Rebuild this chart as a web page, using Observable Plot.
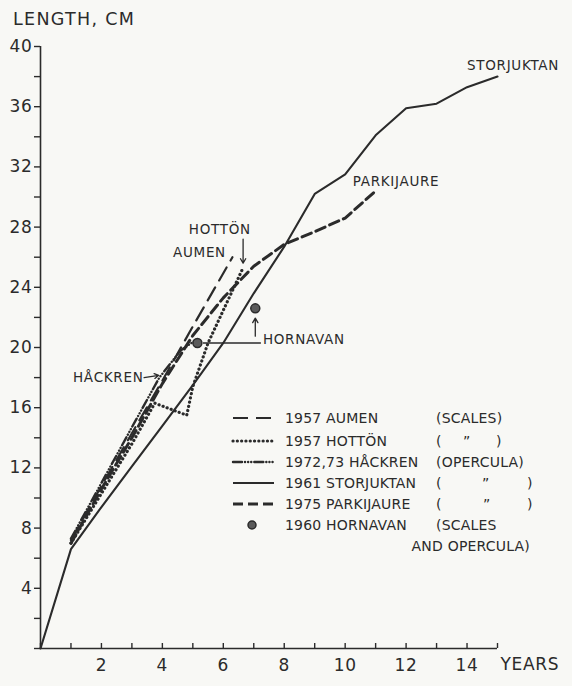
<!DOCTYPE html>
<html>
<head>
<meta charset="utf-8">
<script src="https://cdn.jsdelivr.net/npm/d3@7"></script>
<script src="https://cdn.jsdelivr.net/npm/@observablehq/plot@0.6"></script>
<style>
  html, body { margin: 0; padding: 0; background: #f8f8f5; }
  #chart { width: 572px; height: 686px; }
  #chart svg { display: block; }
  #chart svg text { letter-spacing: 0.7px; }
  #chart svg text.title { letter-spacing: 1.3px; }
  #chart svg g.legend text { letter-spacing: 0.2px; }
</style>
</head>
<body>
<div id="chart"></div>
<script>
// Mean length (cm) at age (years) for five populations, plus Hornavan samples.
const aumen      = [[1, 7.2], [2, 10.8], [3, 14.3], [4, 17.8], [5, 21.4], [6.3, 26.0]];
const hotton     = [[1, 7.0], [2, 10.3], [3, 13.6], [3.75, 16.3], [4.8, 15.5], [5.0, 17.4], [5.5, 20.3], [6.65, 25.3]];
const hackren    = [[1, 7.3], [2, 11.0], [3, 14.7], [3.9, 18.0], [4.6, 19.8], [5.1, 20.5]];
const storjuktan = [[0, 0], [1, 6.6], [2, 9.4], [3, 12.1], [4, 14.8], [5, 17.5], [6, 20.3], [7, 23.6],
                    [8, 26.7], [9, 30.2], [10, 31.5], [11, 34.1], [12, 35.9], [13, 36.2], [14, 37.3], [15, 38.0]];
const parkijaure = [[1, 7.0], [2, 10.6], [3, 14.0], [4, 17.6], [5, 20.8], [6, 23.3], [7, 25.4],
                    [8, 26.85], [9, 27.7], [10, 28.6], [11, 30.4]];
const hornavan   = [[5.15, 20.3], [7.05, 22.6]];

// Axis ticks
const yTicks = d3.range(0, 41, 2);
const xTicks = d3.range(0, 16, 1);

// Legend entries: year + locality, and the material used
const legendNames = ["1957 AUMEN", "1957 HOTTÖN", "1972,73 HÅCKREN", "1961 STORJUKTAN", "1975 PARKIJAURE", "1960 HORNAVAN"];
const legendSources = ["(SCALES)", "(", "(OPERCULA)", "(", "(", "(SCALES"];

const ink = "#2b2b2b";
const font = "'DejaVu Sans', sans-serif";

// Line styles for each series
const styles = {
  aumen:      {stroke: ink, strokeWidth: 2.2, strokeDasharray: "15 8"},
  hotton:     {stroke: ink, strokeWidth: 3.2, strokeDasharray: "0.1 4.2", strokeLinecap: "round"},
  hackren:    {stroke: ink, strokeWidth: 2.4, strokeDasharray: "9 3 0.1 3 0.1 3 0.1 3", strokeLinecap: "round"},
  storjuktan: {stroke: ink, strokeWidth: 2.1},
  parkijaure: {stroke: ink, strokeWidth: 3, strokeDasharray: "10 5"}
};

// Place-name labels written on the plot
const placeLabels = [
  {text: "STORJUKTAN", x: 14.0, y: 38.7},
  {text: "PARKIJAURE", x: 10.25, y: 31.0},
  {text: "HOTTÖN",     x: 4.87, y: 27.8},
  {text: "AUMEN",      x: 4.35, y: 26.3},
  {text: "HORNAVAN",   x: 7.3,  y: 20.5}
];

const chart = Plot.plot({
  width: 572,
  height: 686,
  marginLeft: 40,
  marginRight: 75,
  marginTop: 46,
  marginBottom: 38,
  style: {background: "transparent", fontFamily: font, color: ink},
  x: {domain: [0, 15]},
  y: {domain: [0, 40]},
  marks: [
    Plot.ruleX([0], {stroke: ink, strokeWidth: 1.6}),
    Plot.ruleY([0], {stroke: ink, strokeWidth: 1.6}),
    Plot.axisY({ticks: yTicks, tickSize: 6, tickPadding: 2, stroke: ink, strokeWidth: 1.4,
                fontSize: 17, fill: ink, label: null,
                tickFormat: d => (d % 4 === 0 && d > 0 ? String(d) : "")}),
    Plot.axisX({ticks: xTicks, tickSize: -5, tickPadding: 15, stroke: ink, strokeWidth: 1.4,
                fontSize: 17, fill: ink, label: null,
                tickFormat: d => (d % 2 === 0 && d > 0 ? String(d) : "")}),
    Plot.line(storjuktan, styles.storjuktan),
    Plot.line(parkijaure, styles.parkijaure),
    Plot.line(aumen, styles.aumen),
    Plot.line(hackren, styles.hackren),
    Plot.line(hotton, styles.hotton),
    Plot.dot(hornavan, {r: 4.5, fill: "#5a5a5a", stroke: ink, strokeWidth: 1.5}),
    // label leaders
    Plot.arrow([{x1: hotton[hotton.length - 1][0], y1: 27.2, x2: hotton[hotton.length - 1][0], y2: 25.6}],
               {x1: "x1", y1: "y1", x2: "x2", y2: "y2", stroke: ink, strokeWidth: 1.3, headLength: 6}),
    Plot.arrow([{x1: 3.4, y1: 18.0, x2: 3.88, y2: 18.15}],
               {x1: "x1", y1: "y1", x2: "x2", y2: "y2", stroke: ink, strokeWidth: 1.3, headLength: 6}),
    Plot.arrow([{x1: 7.05, y1: 20.75, x2: 7.05, y2: 21.95}],
               {x1: "x1", y1: "y1", x2: "x2", y2: "y2", stroke: ink, strokeWidth: 1.3, headLength: 6}),
    Plot.ruleY([20.3], {x1: 5.35, x2: 7.25, stroke: ink, strokeWidth: 1.3}),
    Plot.text(placeLabels, {x: "x", y: "y", text: "text", textAnchor: "start", fontSize: 13.5, fill: ink}),
    Plot.text(["HÅCKREN"], {x: 3.38, y: 18.0, text: d => d, textAnchor: "end", fontSize: 13.5, fill: ink}),
    Plot.text(["YEARS"], {x: 15, y: 0, text: d => d, textAnchor: "start", dx: 3, dy: 16, fontSize: 17, fill: ink})
  ]
});

document.getElementById("chart").appendChild(chart);

const svg = d3.select(chart);

// Y axis title
svg.append("text")
  .attr("class", "title")
  .attr("x", 13).attr("y", 25)
  .attr("text-anchor", "start")
  .attr("font-family", font).attr("font-size", 17.5).attr("fill", ink)
  .text("LENGTH, CM");

// Legend
const legendKeys = ["aumen", "hotton", "hackren", "storjuktan", "parkijaure", "dot"];
const rowY = [418, 441, 462, 483, 504, 525];
const lg = svg.append("g")
  .attr("class", "legend")
  .attr("font-family", font).attr("font-size", 14).attr("fill", ink)
  .attr("text-anchor", "start");
legendKeys.forEach((key, i) => {
  const y = rowY[i];
  if (key === "dot") {
    lg.append("circle").attr("cx", 252).attr("cy", y).attr("r", 4)
      .attr("fill", "#5a5a5a").attr("stroke", ink).attr("stroke-width", 1.5);
  } else {
    const s = styles[key];
    lg.append("line").attr("x1", 233).attr("x2", 274).attr("y1", y).attr("y2", y)
      .attr("stroke", s.stroke).attr("stroke-width", s.strokeWidth)
      .attr("stroke-dasharray", s.strokeDasharray || null)
      .attr("stroke-linecap", s.strokeLinecap || null);
  }
  lg.append("text").attr("x", 285).attr("y", y).attr("dy", "0.36em").text(legendNames[i]);
  lg.append("text").attr("x", 436).attr("y", y).attr("dy", "0.36em").text(legendSources[i]);
});
// ditto marks and closing brackets
const ditto = [[1, 463, 496], [3, 482, 527], [4, 483, 527]];
ditto.forEach(([i, dx, cx]) => {
  lg.append("text").attr("x", dx).attr("y", rowY[i]).attr("dy", "0.36em").text("\u201D");
  lg.append("text").attr("x", cx).attr("y", rowY[i]).attr("dy", "0.36em").text(")");
});
lg.append("text").attr("x", 530).attr("y", 546).attr("dy", "0.36em").attr("text-anchor", "end").text("AND OPERCULA)");
</script>
</body>
</html>
